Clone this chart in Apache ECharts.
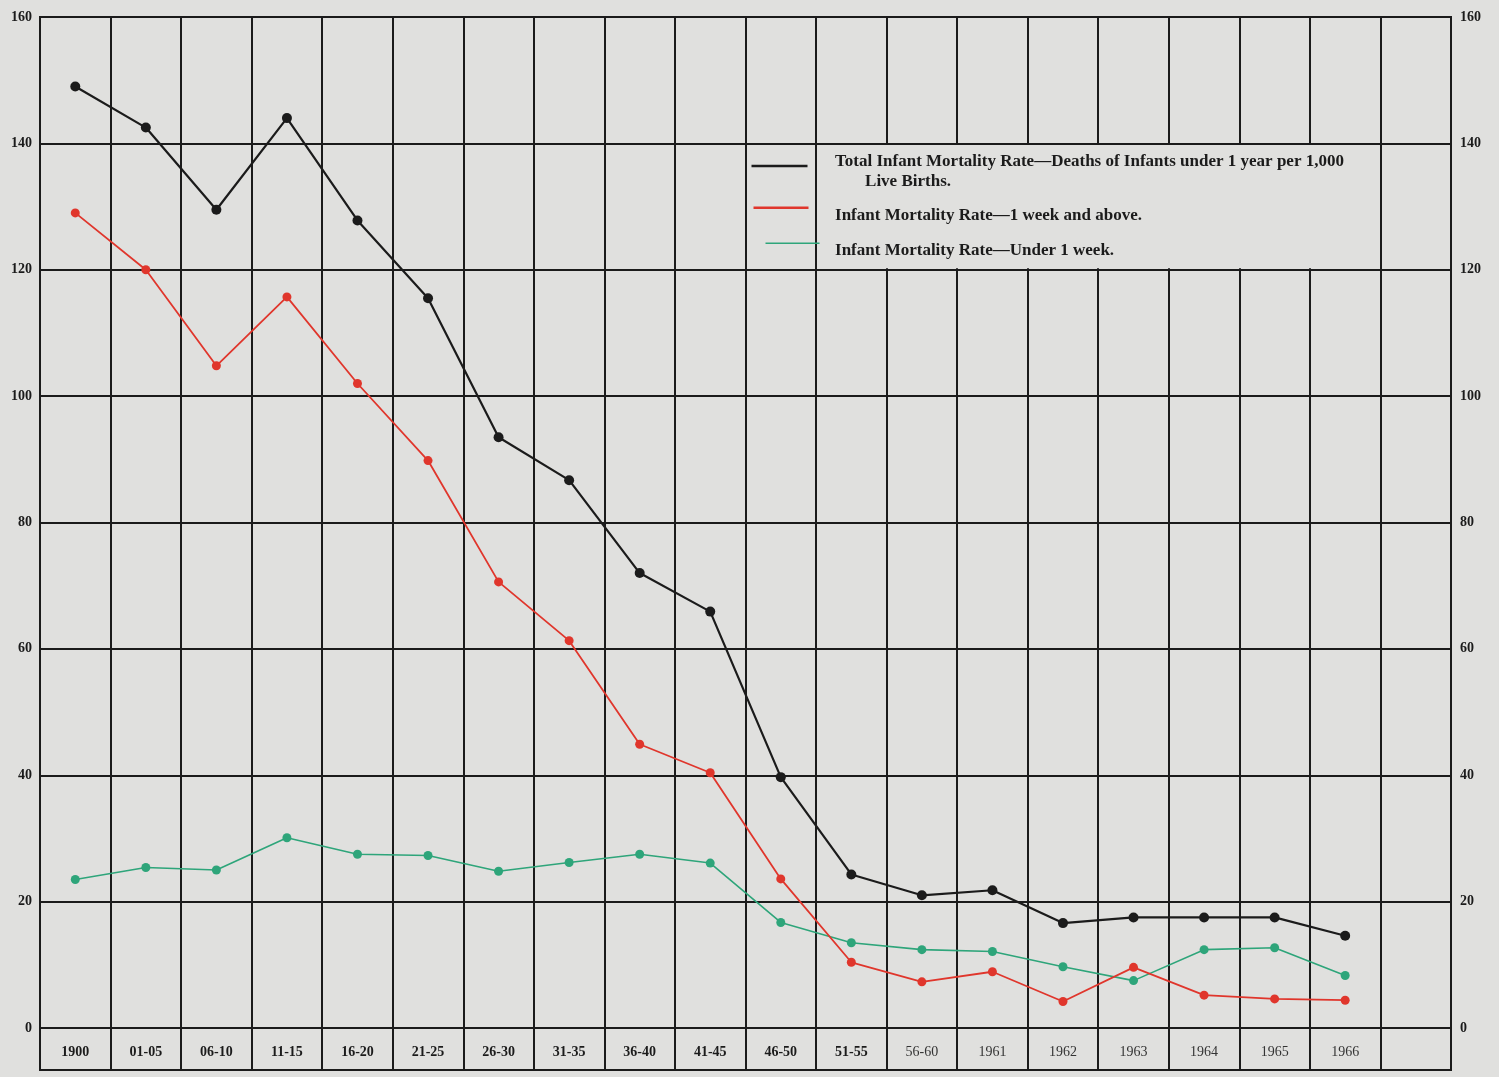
<!DOCTYPE html>
<html><head><meta charset="utf-8">
<script src="https://cdn.jsdelivr.net/npm/echarts@6/dist/echarts.min.js"></script>
<style>html,body{margin:0;padding:0;background:#e0e0de;}#c{width:1499px;height:1077px;}</style>
</head><body><div id="c"></div>
<script>
var categories = ['1900','01-05','06-10','11-15','16-20','21-25','26-30','31-35','36-40','41-45','46-50','51-55','56-60','1961','1962','1963','1964','1965','1966',''];
var totalRate = [149, 142.5, 129.5, 144, 127.8, 115.5, 93.5, 86.7, 72, 65.9, 39.7, 24.3, 21, 21.8, 16.6, 17.5, 17.5, 17.5, 14.6];
var weekAbove = [129, 120, 104.8, 115.7, 102, 89.8, 70.6, 61.3, 44.9, 40.4, 23.6, 10.4, 7.3, 8.9, 4.2, 9.6, 5.2, 4.6, 4.4];
var underWeek = [23.5, 25.4, 25, 30.1, 27.5, 27.3, 24.8, 26.2, 27.5, 26.1, 16.7, 13.5, 12.4, 12.1, 9.7, 7.5, 12.4, 12.7, 8.3];
var yTicks = [0, 20, 40, 60, 80, 100, 120, 140, 160];
var legendTexts = ['Total Infant Mortality Rate\u2014Deaths of Infants under 1 year per 1,000', 'Live Births.', 'Infant Mortality Rate\u20141 week and above.', 'Infant Mortality Rate\u2014Under 1 week.'];

var INK = '#1b1b1b', RED = '#e0362c', GREEN = '#2ea57a', BG = '#e0e0de';
var FONT = '"Liberation Serif", "DejaVu Serif", serif';
var chart = echarts.init(document.getElementById('c'));
var gridL = 40, gridR = 48, gridT = 17, gridB = 49;

var lineStyleAxis = {color: INK, width: 2};
var option = {
  backgroundColor: BG,
  animation: false,
  grid: [
    {left: gridL, right: gridR, top: gridT, bottom: gridB, show: true, borderColor: INK, borderWidth: 2, backgroundColor: 'transparent'},
    {left: gridL, right: gridR, top: 1077 - gridB, height: 42, show: true, borderColor: INK, borderWidth: 2, backgroundColor: 'transparent'}
  ],
  xAxis: [
    {type: 'category', gridIndex: 0, data: categories, boundaryGap: true,
     axisLine: {show: true, lineStyle: lineStyleAxis}, axisTick: {show: false},
     splitLine: {show: true, lineStyle: lineStyleAxis},
     axisLabel: {show: true, interval: 0, margin: 17, fontFamily: FONT, fontSize: 14, color: INK,
       formatter: function (v, i) { return i >= 12 ? '{n|' + v + '}' : '{b|' + v + '}'; },
       rich: {b: {fontFamily: FONT, fontSize: 14, fontWeight: 'bold', color: INK},
              n: {fontFamily: FONT, fontSize: 14, fontWeight: 'normal', color: '#333'}}}},
    {type: 'category', gridIndex: 1, data: categories, boundaryGap: true,
     axisLine: {show: true, lineStyle: lineStyleAxis}, axisTick: {show: false},
     splitLine: {show: true, lineStyle: lineStyleAxis}, axisLabel: {show: false}}
  ],
  yAxis: [
    {type: 'value', gridIndex: 0, min: yTicks[0], max: yTicks[yTicks.length - 1], interval: 20, position: 'left',
     axisLine: {show: true, lineStyle: lineStyleAxis}, axisTick: {show: false},
     splitLine: {show: true, lineStyle: lineStyleAxis},
     axisLabel: {margin: 8, fontFamily: FONT, fontSize: 14, fontWeight: 'bold', color: INK}},
    {type: 'value', gridIndex: 0, min: yTicks[0], max: yTicks[yTicks.length - 1], interval: 20, position: 'right',
     axisLine: {show: true, lineStyle: lineStyleAxis}, axisTick: {show: false},
     splitLine: {show: false},
     axisLabel: {margin: 9, fontFamily: FONT, fontSize: 14, fontWeight: 'bold', color: INK}},
    {type: 'value', gridIndex: 1, show: false, min: 0, max: 1}
  ],
  series: [
    {name: 'total', type: 'line', data: totalRate, xAxisIndex: 0, yAxisIndex: 0, symbol: 'circle', symbolSize: 10,
     lineStyle: {color: INK, width: 2.2}, itemStyle: {color: INK}, z: 5},
    {name: 'above', type: 'line', data: weekAbove, xAxisIndex: 0, yAxisIndex: 0, symbol: 'circle', symbolSize: 9,
     lineStyle: {color: RED, width: 1.8}, itemStyle: {color: RED}, z: 4},
    {name: 'under', type: 'line', data: underWeek, xAxisIndex: 0, yAxisIndex: 0, symbol: 'circle', symbolSize: 9,
     lineStyle: {color: GREEN, width: 1.6}, itemStyle: {color: GREEN}, z: 3}
  ]
};
chart.setOption(option);

// Legend box: blank the grid cells between two band edges, between the 120 and 140 lines
var c11 = chart.convertToPixel({xAxisIndex: 0}, categories[11]);
var c12 = chart.convertToPixel({xAxisIndex: 0}, categories[12]);
var band = c12 - c11;
var c10 = chart.convertToPixel({xAxisIndex: 0}, categories[10]);
var c18 = chart.convertToPixel({xAxisIndex: 0}, categories[18]);
var boxL = c11 - band / 2, boxR = c18 + band / 2;
var y140 = chart.convertToPixel({yAxisIndex: 0}, 140);
var y120 = chart.convertToPixel({yAxisIndex: 0}, 120);
var sampleL = c10 - band / 2;
var tx = boxL + 19;
var lh = (y120 - y140);
var LF = 'bold 17px ' + FONT;
chart.setOption({
  graphic: [
    {type: 'rect', z: 10, shape: {x: boxL + 2, y: y140 + 1.5, width: boxR - boxL - 4, height: y120 - y140 - 3}, style: {fill: BG}},
    {type: 'line', z: 11, shape: {x1: sampleL + 6, y1: y140 + lh * 0.18, x2: sampleL + 62, y2: y140 + lh * 0.18}, style: {stroke: INK, lineWidth: 2.5}},
    {type: 'line', z: 11, shape: {x1: sampleL + 8, y1: y140 + lh * 0.51, x2: sampleL + 63, y2: y140 + lh * 0.51}, style: {stroke: RED, lineWidth: 2.5}},
    {type: 'line', z: 11, shape: {x1: sampleL + 20, y1: y140 + lh * 0.79, x2: sampleL + 74, y2: y140 + lh * 0.79}, style: {stroke: GREEN, lineWidth: 1.5}},
    {type: 'text', z: 11, style: {x: tx, y: y140 + lh * 0.145, text: legendTexts[0], font: LF, fill: INK, textVerticalAlign: 'middle'}},
    {type: 'text', z: 11, style: {x: tx + 30, y: y140 + lh * 0.30, text: legendTexts[1], font: LF, fill: INK, textVerticalAlign: 'middle'}},
    {type: 'text', z: 11, style: {x: tx, y: y140 + lh * 0.575, text: legendTexts[2], font: LF, fill: INK, textVerticalAlign: 'middle'}},
    {type: 'text', z: 11, style: {x: tx, y: y140 + lh * 0.85, text: legendTexts[3], font: LF, fill: INK, textVerticalAlign: 'middle'}}
  ]
});
</script>
</body></html>
